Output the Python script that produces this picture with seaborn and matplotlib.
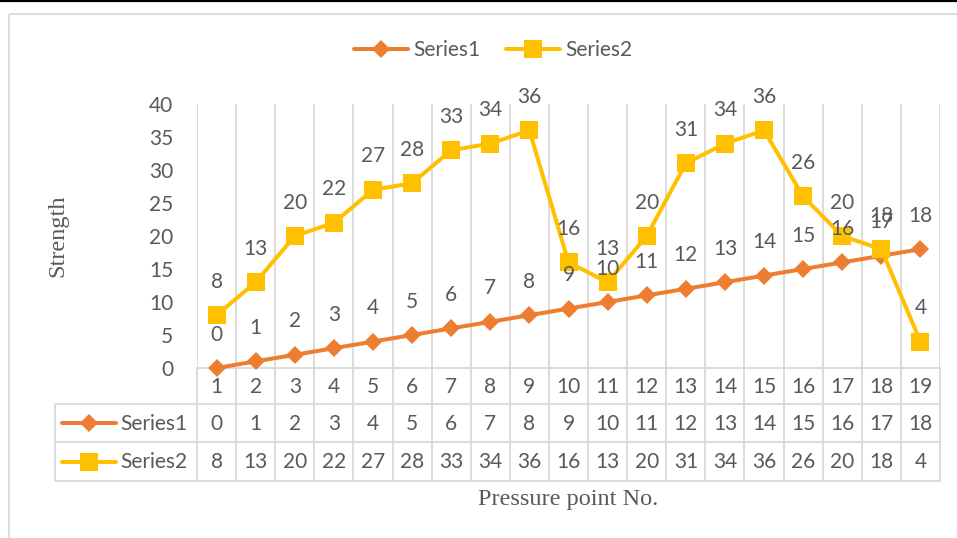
import numpy as np
import pandas as pd
import matplotlib
matplotlib.use("Agg")
import matplotlib.pyplot as plt
import matplotlib.transforms as mtransforms
from matplotlib.lines import Line2D
import seaborn as sns

# ---- data -------------------------------------------------------------
points = list(range(1, 20))
series1 = [0, 1, 2, 3, 4, 5, 6, 7, 8, 9, 10, 11, 12, 13, 14, 15, 16, 17, 18]
series2 = [8, 13, 20, 22, 27, 28, 33, 34, 36, 16, 13, 20, 31, 34, 36, 26, 20, 18, 4]
series_names = ["Series1", "Series2"]
y_ticks = [0, 5, 10, 15, 20, 25, 30, 35, 40]
x_title = "Pressure point No."
y_title = "Strength"

df = pd.DataFrame({"point": points, "Series1": series1, "Series2": series2})

# ---- style ------------------------------------------------------------
sns.set_theme(style="white")
plt.rcParams["font.family"] = ["Lato", "DejaVu Sans"]

ORANGE = "#ED7D31"
GOLD = "#FFC000"
TXT = "#595959"
GRID = "#D9D9D9"
FS = 15
LW = 2.9

W, H = 957, 538
fig = plt.figure(figsize=(W / 100, H / 100), dpi=100)


def fx(px):
    return px / W


def fy(py):
    return 1 - py / H


x_left, x_right, y_top, y_bot = 197, 940, 104, 368
ax = fig.add_axes([fx(x_left), fy(y_bot), fx(x_right - x_left), (y_bot - y_top) / H])
ax.patch.set_alpha(0)

styles = [
    dict(col="Series1", color=ORANGE, marker="D", ms=9.6),
    dict(col="Series2", color=GOLD, marker="s", ms=12.6),
]
for st in styles:
    sns.lineplot(data=df, x="point", y=st["col"], ax=ax, color=st["color"],
                 marker=st["marker"], markersize=st["ms"], markeredgewidth=0,
                 linewidth=LW, legend=False, zorder=3, clip_on=False)

ax.set_xlim(0.5, len(points) + 0.5)
ax.set_ylim(y_ticks[0], y_ticks[-1])
ax.set_yticks(y_ticks)
ax.set_yticklabels([str(t) for t in y_ticks], fontsize=FS, color=TXT)
ax.tick_params(axis="y", length=0, pad=17)
ax.set_xticks([])
ax.set_xlabel("")
ax.set_ylabel("")
for s in ax.spines.values():
    s.set_visible(False)

# vertical gridlines at category boundaries
for b in np.arange(0.5, len(points) + 1, 1.0):
    ax.axvline(b, color=GRID, lw=1.3, zorder=1)

# data labels
for col in series_names:
    for xv, yv in zip(points, df[col]):
        ax.annotate(str(yv), (xv, yv), xytext=(0, 24), textcoords="offset points",
                    ha="center", va="center", fontsize=FS, color=TXT,
                    annotation_clip=False, zorder=4)

# ---- data table below the plot --------------------------------------
bt = mtransforms.blended_transform_factory(ax.transData, fig.transFigure)
row_y = [368, 404, 442, 481]
tbl_left = 55

def fig_line(x0, y0, x1, y1, color=GRID, lw=1.3, z=-1):
    fig.add_artist(Line2D([fx(x0), fx(x1)], [fy(y0), fy(y1)], color=color, lw=lw,
                          transform=fig.transFigure, solid_capstyle="butt", zorder=z))

fig_line(x_left, row_y[0], x_right, row_y[0])
for yy in row_y[1:]:
    fig_line(tbl_left, yy, x_right, yy)
fig_line(tbl_left, row_y[1], tbl_left, row_y[3])
for b in np.arange(0.5, len(points) + 1, 1.0):
    fig.add_artist(Line2D([b, b], [fy(row_y[0]), fy(row_y[3])], color=GRID, lw=1.3,
                          transform=bt, zorder=-1))

row_centers = [(row_y[i] + row_y[i + 1]) / 2 + 1 for i in range(3)]
for xv in points:
    fig.text(xv, fy(row_centers[0]), str(xv), transform=bt, ha="center", va="center",
             fontsize=FS, color=TXT)
for r, col in enumerate(series_names, start=1):
    for xv, yv in zip(points, df[col]):
        fig.text(xv, fy(row_centers[r]), str(yv), transform=bt, ha="center",
                 va="center", fontsize=FS, color=TXT)

# legend keys inside the table
for r, st in enumerate(styles, start=1):
    yc = fy(row_centers[r] - 1)
    fig.add_artist(Line2D([fx(62), fx(116)], [yc, yc], color=st["color"], lw=LW,
                          transform=fig.transFigure))
    fig.add_artist(Line2D([fx(89)], [yc], color=st["color"], marker=st["marker"],
                          markersize=st["ms"], markeredgewidth=0,
                          transform=fig.transFigure))
    fig.text(fx(120), fy(row_centers[r]), st["col"], ha="left", va="center",
             fontsize=FS, color=TXT)

# axis titles
fig.text(fx(568), fy(500), x_title, ha="center", va="center", fontsize=17.5,
         color=TXT, family="Liberation Serif")
fig.text(fx(58), fy(236), y_title, ha="center", va="center", rotation=90,
         fontsize=17.5, color=TXT, family="Liberation Serif")

# top legend
handles = [Line2D([], [], color=st["color"], marker=st["marker"], markersize=st["ms"],
                  markeredgewidth=0, lw=LW) for st in styles]
fig.legend(handles, series_names, loc="center", bbox_to_anchor=(fx(493), fy(50)),
           ncol=2, frameon=False, fontsize=FS, handlelength=2.6, handletextpad=0.25,
           columnspacing=1.2, labelcolor=TXT)

# chart frame and page edge
fig_line(9, 14, W, 14, color="#D9D9D9", lw=1.3)
fig_line(9, 14, 9, H, color="#D9D9D9", lw=1.3)
fig_line(0, 1, W, 1, color="black", lw=1.6)

fig.savefig("out.png", dpi=100, facecolor="white")
